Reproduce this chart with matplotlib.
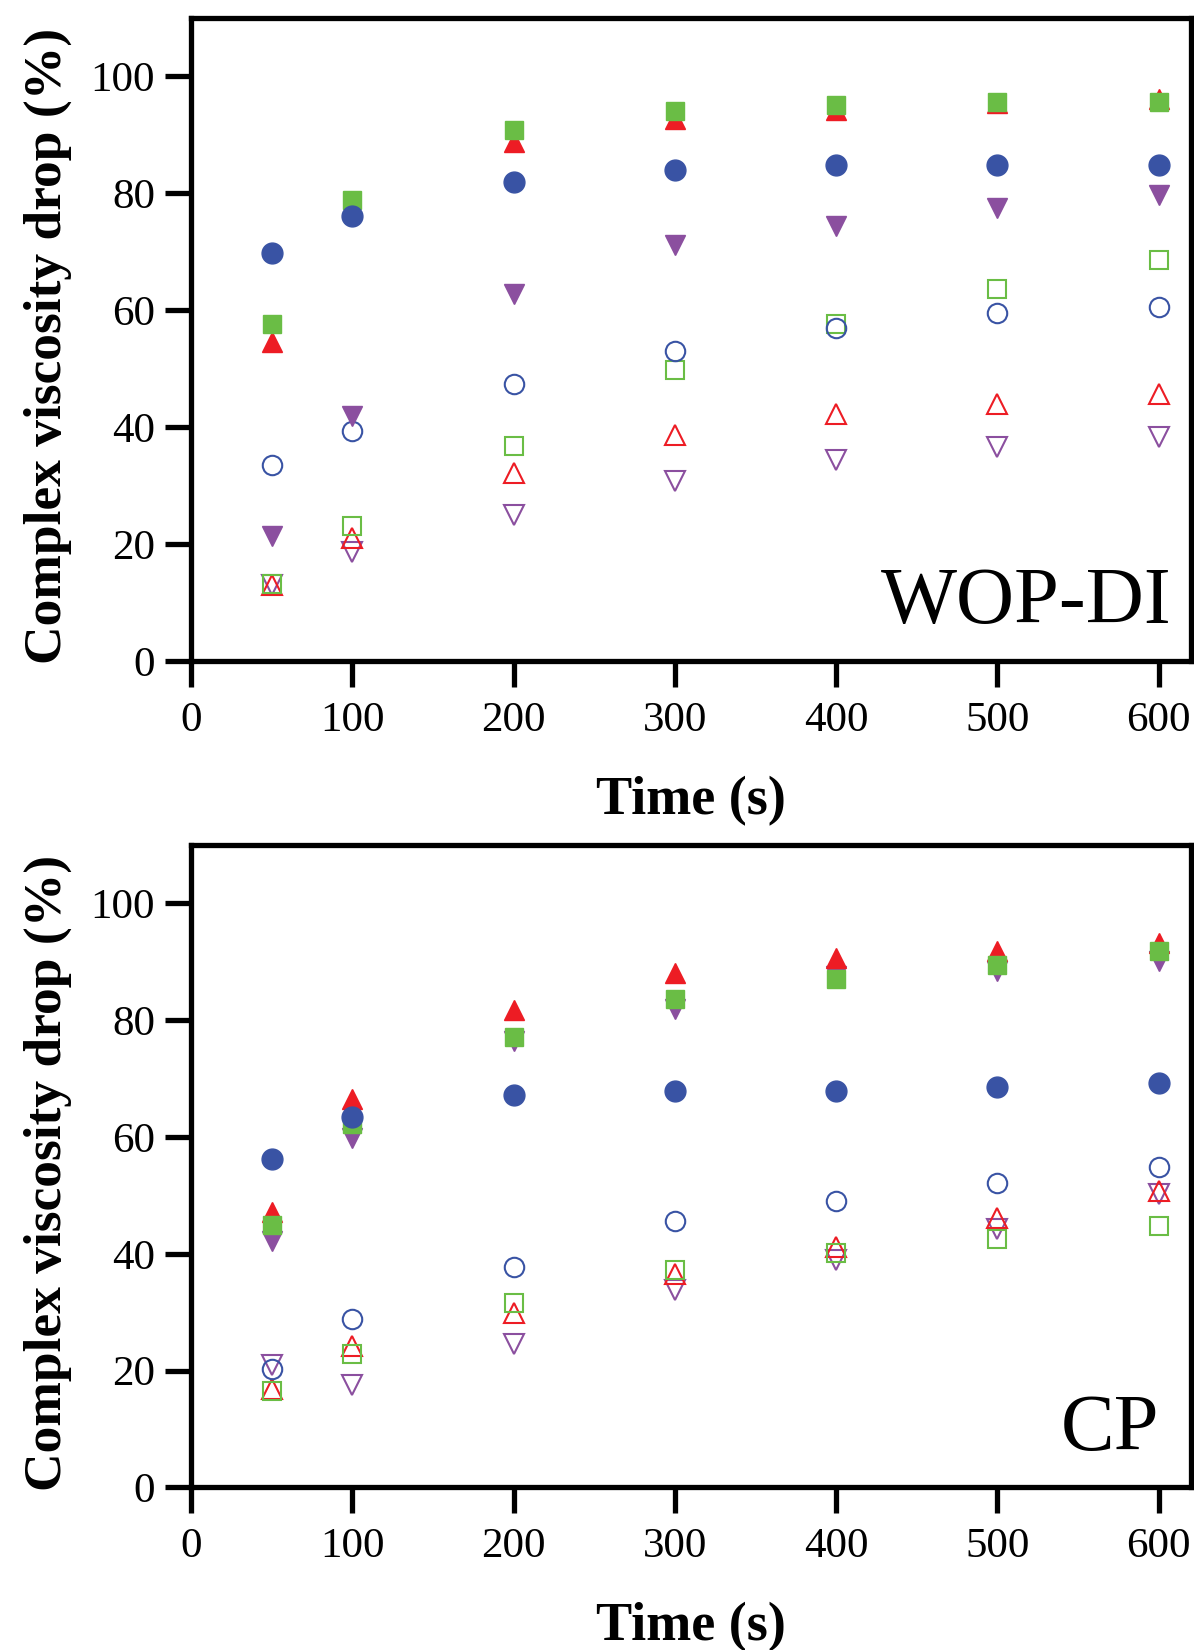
import matplotlib
matplotlib.use('Agg')
import matplotlib.pyplot as plt

plt.rcParams['font.family'] = ['Liberation Serif', 'DejaVu Serif']

time = [50, 100, 200, 300, 400, 500, 600]

# WOP-DI panel
wop_circle_f = [69.8, 76.2, 82.0, 84.0, 84.8, 84.9, 84.9]
wop_tri_f = [54.5, 77.5, 88.8, 92.8, 94.3, 95.4, 96.1]
wop_square_f = [57.7, 78.8, 90.9, 94.1, 95.1, 95.6, 95.6]
wop_dtri_f = [21.3, 41.9, 62.8, 71.1, 74.5, 77.5, 79.8]
wop_circle_o = [33.6, 39.4, 47.4, 53.1, 57.0, 59.5, 60.5]
wop_tri_o = [13.0, 21.0, 32.1, 38.6, 42.2, 44.0, 45.6]
wop_square_o = [13.2, 23.1, 36.8, 49.7, 57.7, 63.7, 68.6]
wop_dtri_o = [13.0, 18.7, 25.0, 30.8, 34.4, 36.6, 38.4]

# CP panel
cp_circle_f = [56.3, 63.4, 67.2, 67.8, 67.8, 68.5, 69.2]
cp_tri_f = [47.1, 66.5, 81.7, 88.0, 90.6, 91.9, 93.3]
cp_square_f = [45.0, 62.3, 77.2, 83.6, 87.0, 89.4, 91.9]
cp_dtri_f = [42.2, 59.8, 76.4, 82.0, 87.5, 88.4, 90.1]
cp_circle_o = [20.2, 28.8, 37.8, 45.7, 49.0, 52.2, 54.9]
cp_tri_o = [16.8, 24.2, 29.9, 36.6, 41.2, 46.1, 50.7]
cp_square_o = [16.5, 22.8, 31.6, 37.3, 40.2, 42.6, 44.7]
cp_dtri_o = [21.0, 17.5, 24.6, 33.8, 39.0, 44.3, 50.3]

blue = '#3953A4'
red = '#ED1C24'
green = '#6ABD45'
purple = '#8B4F9F'


def draw_panel(ax, filled, opened, name, name_x):
    dtri_f, tri_f, sq_f, circ_f = filled
    dtri_o, tri_o, sq_o, circ_o = opened
    # open markers first
    ax.plot(time, dtri_o, 'v', ms=15, mfc='none', mec=purple, mew=1.5, ls='none')
    ax.plot(time, tri_o, '^', ms=15, mfc='none', mec=red, mew=1.5, ls='none')
    ax.plot(time, sq_o, 's', ms=13, mfc='none', mec=green, mew=1.5, ls='none')
    ax.plot(time, circ_o, 'o', ms=14, mfc='none', mec=blue, mew=1.5, ls='none')
    # filled markers
    ax.plot(time, dtri_f, 'v', ms=15, color=purple, ls='none')
    ax.plot(time, tri_f, '^', ms=15, color=red, ls='none')
    ax.plot(time, sq_f, 's', ms=13, color=green, ls='none')
    ax.plot(time, circ_f, 'o', ms=15, color=blue, ls='none')

    ax.set_xlim(0, 620)
    ax.set_ylim(0, 110)
    ax.set_xticks(range(0, 601, 100))
    ax.set_yticks(range(0, 101, 20))
    for s in ax.spines.values():
        s.set_linewidth(3.8)
    ax.tick_params(direction='out', length=19, width=3.8, labelsize=31)
    ax.tick_params(axis='x', pad=10)
    ax.tick_params(axis='y', pad=7)
    ax.set_xlabel('Time (s)', fontsize=39, fontweight='bold', labelpad=26)
    ax.set_ylabel('Complex viscosity drop (%)', fontsize=38.5, fontweight='bold')
    ax.yaxis.set_label_coords(-0.119, 0.49)
    ax.text(name_x, 6.5, name, fontsize=58, ha='right', va='baseline')


fig = plt.figure(figsize=(11.94, 16.5), dpi=100)
ax1 = fig.add_axes([0.160, 0.5994, 0.8375, 0.3897])
ax2 = fig.add_axes([0.160, 0.0985, 0.8375, 0.3894])

draw_panel(ax1, (wop_dtri_f, wop_tri_f, wop_square_f, wop_circle_f),
           (wop_dtri_o, wop_tri_o, wop_square_o, wop_circle_o), 'WOP-DI', 608)
draw_panel(ax2, (cp_dtri_f, cp_tri_f, cp_square_f, cp_circle_f),
           (cp_dtri_o, cp_tri_o, cp_square_o, cp_circle_o), 'CP', 600)

fig.savefig('out.png', dpi=100)
